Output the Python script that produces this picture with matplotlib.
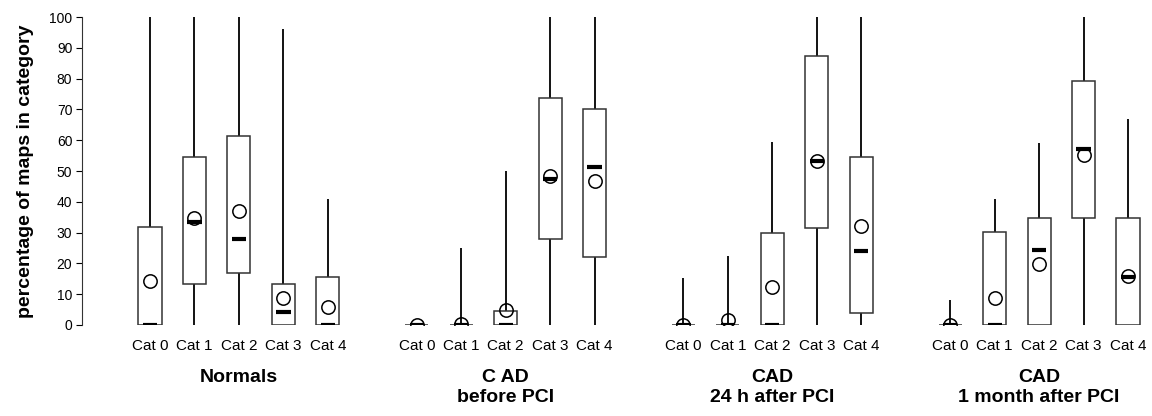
import matplotlib
matplotlib.use("Agg")
import matplotlib.pyplot as plt
from matplotlib.patches import Rectangle
import matplotlib.transforms as mtransforms

plt.rcParams['font.family'] = ['Liberation Sans', 'DejaVu Sans']

groups = ["Normals", "C AD\nbefore PCI", "CAD\n24 h after PCI", "CAD\n1 month after PCI"]
categories = ["Cat 0", "Cat 1", "Cat 2", "Cat 3", "Cat 4"]

# per group: lists over categories
whisker_low = [
    [0, 0, 0, 0, 0],
    [0, 0, 0, 0, 0],
    [0, 0, 0, 0, 0],
    [0, 0, 0, 0, 0],
]
q1 = [
    [0, 13.2, 16.8, 0, 0],
    [0, 0, 0, 28.0, 22.0],
    [0, 0, 0, 31.6, 4.0],
    [0, 0, 0, 34.7, 0],
]
q3 = [
    [31.8, 54.5, 61.5, 13.2, 15.6],
    [0, 0, 4.5, 73.7, 70.0],
    [0, 0, 29.8, 87.5, 54.5],
    [0, 30.3, 34.7, 79.2, 34.7],
]
whisker_high = [
    [100, 100, 100, 96, 41],
    [0, 25, 50, 100, 100],
    [15.2, 22.5, 59.5, 100, 100],
    [8.1, 41, 59, 100, 67],
]
medians = [
    [0, 33.3, 28.0, 4.2, 0],
    [0, 0, 0, 47.5, 51.4],
    [0, 0, 0, 53.3, 24.0],
    [0, 0, 24.4, 57.0, 15.6],
]
means = [
    [14.4, 34.7, 37.0, 8.7, 5.9],
    [0, 0.3, 4.9, 48.3, 46.7],
    [0, 1.5, 12.4, 53.3, 32.3],
    [0, 8.8, 19.7, 55.3, 15.8],
]

fig = plt.figure(figsize=(11.52, 4.16), dpi=100)
ax = fig.add_axes([0.0712, 0.2188, 0.9288, 0.7402])

box_w = 0.52
med_w = 0.32
positions = []
for g in range(len(groups)):
    for i in range(len(categories)):
        x = g * 6 + i
        positions.append(x)
        lo, a, b, hi = whisker_low[g][i], q1[g][i], q3[g][i], whisker_high[g][i]
        # whiskers
        ax.plot([x, x], [lo, a], color='black', lw=1.3, solid_capstyle='butt', zorder=2)
        ax.plot([x, x], [b, hi], color='black', lw=1.3, solid_capstyle='butt', zorder=2)
        # box
        ax.add_patch(Rectangle((x - box_w / 2, a), box_w, b - a, fill=False,
                               edgecolor='#333333', lw=1.1, zorder=3))
        # mean circle
        ax.plot([x], [means[g][i]], marker='o', ms=9.6, mfc='none', mec='black',
                mew=1.1, zorder=4)
        # median bar
        ax.plot([x - med_w / 2, x + med_w / 2], [medians[g][i]] * 2, color='black',
                lw=3.0, solid_capstyle='butt', zorder=5)

ax.set_xlim(-1.53, 22.54)
ax.set_ylim(0, 100)
ax.set_yticks(range(0, 101, 10))
ax.tick_params(axis='y', direction='out', length=4, width=0.8, labelsize=10, pad=3)
ax.set_xticks(positions)
ax.set_xticklabels(categories * len(groups), fontsize=11)
ax.tick_params(axis='x', length=0, pad=10)
for s in ['top', 'right', 'bottom']:
    ax.spines[s].set_visible(False)
ax.spines['left'].set_linewidth(0.8)
ax.spines['left'].set_color('#333333')
ax.set_ylabel("percentage of maps in category", fontsize=14, fontweight='bold', labelpad=11)

trans = mtransforms.blended_transform_factory(ax.transData, fig.transFigure)
for g, name in enumerate(groups):
    ax.text(g * 6 + 2, 1 - 369 / 416, name, transform=trans, ha='center', va='top',
            fontsize=14, fontweight='bold', linespacing=1.2)

fig.savefig("out.png", dpi=100)
